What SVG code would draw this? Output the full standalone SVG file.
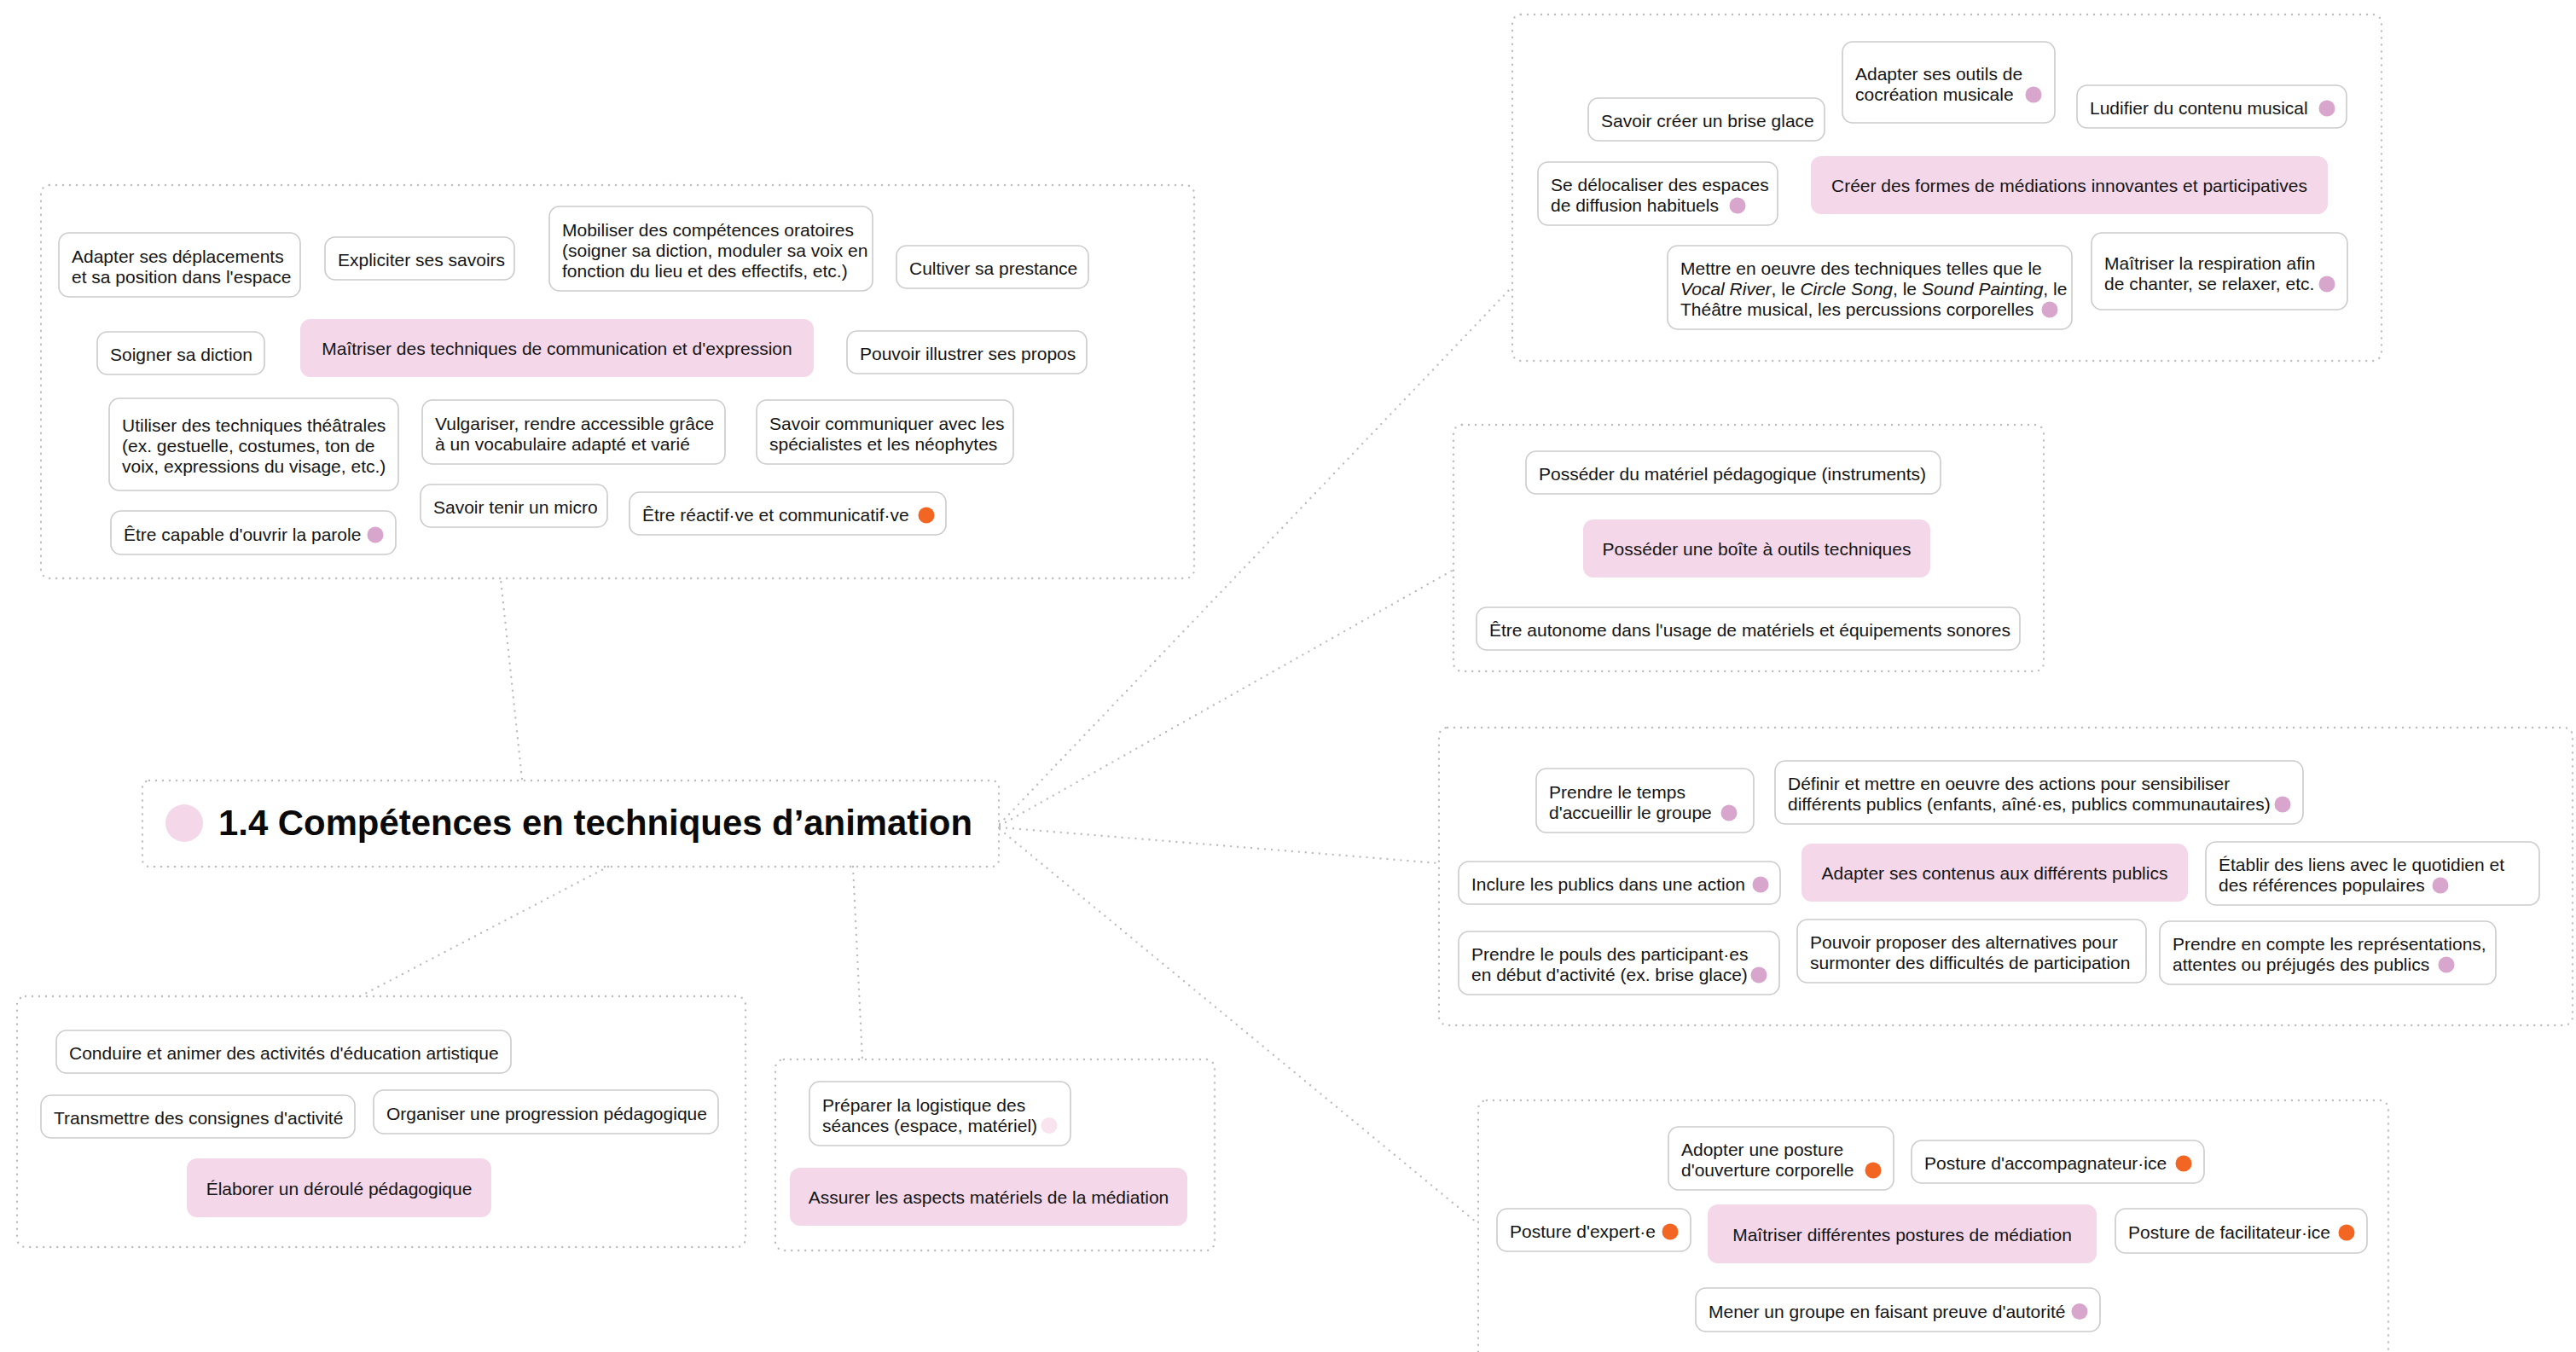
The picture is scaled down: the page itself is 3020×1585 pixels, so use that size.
<svg xmlns="http://www.w3.org/2000/svg" width="3020" height="1585" viewBox="0 0 3020 1585">
<style>
.frame{fill:none;stroke:#BBBBBB;stroke-width:2.4;stroke-dasharray:0 8;stroke-linecap:round}
.edge{fill:none;stroke:#BBBBBB;stroke-width:2.4;stroke-dasharray:0 8;stroke-linecap:round}
.box{fill:#FFFFFF;stroke:#CBCBCB;stroke-width:1.6}
.hub{fill:#F4D7E9;stroke:none}
.t{font-family:"Liberation Sans",Arial,sans-serif;font-size:21px;fill:#151515}
.tc{font-family:"Liberation Sans",Arial,sans-serif;font-size:21px;fill:#151515;text-anchor:middle}
.title{font-family:"Liberation Sans",Arial,sans-serif;font-size:43px;font-weight:bold;fill:#0A0A0A}
.dp{fill:#D8A5CC}
.do{fill:#F26522}
.dl{fill:#F8E3EE}
</style>
<rect width="3020" height="1585" fill="#FFFFFF"/>

<g id="connectors">
<line class="edge" x1="612" y1="913" x2="587" y2="679"/>
<line class="edge" x1="713" y1="1016" x2="422" y2="1168"/>
<line class="edge" x1="1000" y1="1016" x2="1011" y2="1242"/>
<line class="edge" x1="1172" y1="966" x2="1772" y2="337"/>
<line class="edge" x1="1172" y1="968" x2="1704" y2="668"/>
<line class="edge" x1="1172" y1="970" x2="1687" y2="1012"/>
<line class="edge" x1="1172" y1="972" x2="1731" y2="1433"/>
</g>

<g id="frames">
<rect class="frame" x="48" y="217" width="1352" height="461" rx="10"/>
<rect class="frame" x="1773" y="17" width="1019" height="406" rx="10"/>
<rect class="frame" x="1704" y="498" width="692" height="289" rx="10"/>
<rect class="frame" x="1687" y="853" width="1329" height="349" rx="10"/>
<rect class="frame" x="1733" y="1290" width="1067" height="320" rx="10"/>
<rect class="frame" x="20" y="1168" width="854" height="294" rx="10"/>
<rect class="frame" x="909" y="1242" width="515" height="224" rx="10"/>
</g>

<g id="central">
<rect class="frame" x="167" y="915" width="1004" height="101" rx="8"/>
<circle cx="216" cy="965" r="22" fill="#F4D7E9"/>
<text class="title" x="256" y="979" textLength="884" lengthAdjust="spacingAndGlyphs">1.4 Compétences en techniques d’animation</text>
</g>

<!-- Group 1 -->
<g id="n1"><rect class="box" x="69" y="273" width="283" height="75" rx="12"/><text class="t" x="84" y="307.5">Adapter ses déplacements</text><text class="t" x="84" y="331.5">et sa position dans l'espace</text></g>
<g id="n2"><rect class="box" x="381" y="278" width="222" height="50" rx="12"/><text class="t" x="396" y="312">Expliciter ses savoirs</text></g>
<g id="n3"><rect class="box" x="644" y="242" width="379" height="99" rx="12"/><text class="t" x="659" y="276.5">Mobiliser des compétences oratoires</text><text class="t" x="659" y="300.5">(soigner sa diction, moduler sa voix en</text><text class="t" x="659" y="324.5">fonction du lieu et des effectifs, etc.)</text></g>
<g id="n4"><rect class="box" x="1051" y="288" width="225" height="50" rx="12"/><text class="t" x="1066" y="322">Cultiver sa prestance</text></g>
<g id="n5"><rect class="box" x="114" y="389" width="196" height="50" rx="12"/><text class="t" x="129" y="423">Soigner sa diction</text></g>
<g id="p1"><rect class="hub" x="352" y="374" width="602" height="68" rx="12"/><text class="tc" x="653" y="416">Maîtriser des techniques de communication et d'expression</text></g>
<g id="n6"><rect class="box" x="993" y="388" width="281" height="50" rx="12"/><text class="t" x="1008" y="422">Pouvoir illustrer ses propos</text></g>
<g id="n7"><rect class="box" x="128" y="467" width="339" height="108" rx="12"/><text class="t" x="143" y="506">Utiliser des techniques théâtrales</text><text class="t" x="143" y="530">(ex. gestuelle, costumes, ton de</text><text class="t" x="143" y="554">voix, expressions du visage, etc.)</text></g>
<g id="n8"><rect class="box" x="495" y="469" width="355" height="75" rx="12"/><text class="t" x="510" y="503.5">Vulgariser, rendre accessible grâce</text><text class="t" x="510" y="527.5">à un vocabulaire adapté et varié</text></g>
<g id="n9"><rect class="box" x="887" y="469" width="301" height="75" rx="12"/><text class="t" x="902" y="503.5">Savoir communiquer avec les</text><text class="t" x="902" y="527.5">spécialistes et les néophytes</text></g>
<g id="n10"><rect class="box" x="493" y="568" width="219" height="50" rx="12"/><text class="t" x="508" y="602">Savoir tenir un micro</text></g>
<g id="n11"><rect class="box" x="738" y="577" width="371" height="50" rx="12"/><text class="t" x="753" y="611">Être réactif·ve et communicatif·ve</text><circle class="do" cx="1086" cy="604" r="9.5"/></g>
<g id="n12"><rect class="box" x="130" y="599" width="334" height="51" rx="12"/><text class="t" x="145" y="633.5">Être capable d'ouvrir la parole</text><circle class="dp" cx="440" cy="627" r="9.5"/></g>

<!-- Group top right -->
<g id="a1"><rect class="box" x="1862" y="115" width="277" height="50" rx="12"/><text class="t" x="1877" y="149">Savoir créer un brise glace</text></g>
<g id="a2"><rect class="box" x="2160" y="49" width="249" height="95" rx="12"/><text class="t" x="2175" y="93.5">Adapter ses outils de</text><text class="t" x="2175" y="117.5">cocréation musicale</text><circle class="dp" cx="2384" cy="111" r="9.5"/></g>
<g id="a3"><rect class="box" x="2435" y="100" width="316" height="50" rx="12"/><text class="t" x="2450" y="134">Ludifier du contenu musical</text><circle class="dp" cx="2728" cy="127" r="9.5"/></g>
<g id="a4"><rect class="box" x="1803" y="190" width="281" height="74" rx="12"/><text class="t" x="1818" y="224">Se délocaliser des espaces</text><text class="t" x="1818" y="248">de diffusion habituels</text><circle class="dp" cx="2037" cy="241" r="9.5"/></g>
<g id="pa"><rect class="hub" x="2123" y="183" width="606" height="68" rx="12"/><text class="tc" x="2426" y="225">Créer des formes de médiations innovantes et participatives</text></g>
<g id="a5"><rect class="box" x="1955" y="288" width="474" height="98" rx="12"/><text class="t" x="1970" y="322">Mettre en oeuvre des techniques telles que le</text><text class="t" x="1970" y="346"><tspan font-style="italic">Vocal River</tspan>, le <tspan font-style="italic">Circle Song</tspan>, le <tspan font-style="italic">Sound Painting</tspan>, le</text><text class="t" x="1970" y="370">Théâtre musical, les percussions corporelles</text><circle class="dp" cx="2403" cy="363" r="9.5"/></g>
<g id="a6"><rect class="box" x="2452" y="273" width="300" height="90" rx="12"/><text class="t" x="2467" y="316">Maîtriser la respiration afin</text><text class="t" x="2467" y="340">de chanter, se relaxer, etc.</text><circle class="dp" cx="2728" cy="333" r="9.5"/></g>

<!-- Group 2 -->
<g id="b1"><rect class="box" x="1789" y="529" width="486" height="50" rx="12"/><text class="t" x="1804" y="563">Posséder du matériel pédagogique (instruments)</text></g>
<g id="pb"><rect class="hub" x="1856" y="609" width="407" height="68" rx="12"/><text class="tc" x="2059.5" y="651">Posséder une boîte à outils techniques</text></g>
<g id="b2"><rect class="box" x="1731" y="712" width="637" height="50" rx="12"/><text class="t" x="1746" y="746">Être autonome dans l'usage de matériels et équipements sonores</text></g>

<!-- Group 3 -->
<g id="c1"><rect class="box" x="1801" y="901" width="255" height="75" rx="12"/><text class="t" x="1816" y="935.5">Prendre le temps</text><text class="t" x="1816" y="959.5">d'accueillir le groupe</text><circle class="dp" cx="2027" cy="953" r="9.5"/></g>
<g id="c2"><rect class="box" x="2081" y="892" width="619" height="74" rx="12"/><text class="t" x="2096" y="926">Définir et mettre en oeuvre des actions pour sensibiliser</text><text class="t" x="2096" y="950">différents publics (enfants, aîné·es, publics communautaires)</text><circle class="dp" cx="2676" cy="943" r="9.5"/></g>
<g id="c3"><rect class="box" x="1710" y="1010" width="377" height="50" rx="12"/><text class="t" x="1725" y="1044">Inclure les publics dans une action</text><circle class="dp" cx="2064" cy="1037" r="9.5"/></g>
<g id="pc"><rect class="hub" x="2112" y="989" width="453" height="68" rx="12"/><text class="tc" x="2338.5" y="1031">Adapter ses contenus aux différents publics</text></g>
<g id="c4"><rect class="box" x="2586" y="987" width="391" height="74" rx="12"/><text class="t" x="2601" y="1021">Établir des liens avec le quotidien et</text><text class="t" x="2601" y="1045">des références populaires</text><circle class="dp" cx="2861" cy="1038" r="9.5"/></g>
<g id="c5"><rect class="box" x="1710" y="1092" width="376" height="74" rx="12"/><text class="t" x="1725" y="1126">Prendre le pouls des participant·es</text><text class="t" x="1725" y="1150">en début d'activité (ex. brise glace)</text><circle class="dp" cx="2062" cy="1143" r="9.5"/></g>
<g id="c6"><rect class="box" x="2107" y="1078" width="409" height="74" rx="12"/><text class="t" x="2122" y="1112">Pouvoir proposer des alternatives pour</text><text class="t" x="2122" y="1136">surmonter des difficultés de participation</text></g>
<g id="c7"><rect class="box" x="2532" y="1080" width="394" height="74" rx="12"/><text class="t" x="2547" y="1114">Prendre en compte les représentations,</text><text class="t" x="2547" y="1138">attentes ou préjugés des publics</text><circle class="dp" cx="2868" cy="1131" r="9.5"/></g>

<!-- Group 4 -->
<g id="d1"><rect class="box" x="1956" y="1321" width="264" height="74" rx="12"/><text class="t" x="1971" y="1355">Adopter une posture</text><text class="t" x="1971" y="1379">d'ouverture corporelle</text><circle class="do" cx="2196" cy="1372" r="9.5"/></g>
<g id="d2"><rect class="box" x="2241" y="1337" width="343" height="50" rx="12"/><text class="t" x="2256" y="1371">Posture d'accompagnateur·ice</text><circle class="do" cx="2560" cy="1364" r="9.5"/></g>
<g id="d3"><rect class="box" x="1755" y="1417" width="227" height="50" rx="12"/><text class="t" x="1770" y="1451">Posture d'expert·e</text><circle class="do" cx="1958" cy="1444" r="9.5"/></g>
<g id="pd"><rect class="hub" x="2002" y="1412" width="456" height="69" rx="12"/><text class="tc" x="2230" y="1454.5">Maîtriser différentes postures de médiation</text></g>
<g id="d4"><rect class="box" x="2480" y="1417" width="295" height="52" rx="12"/><text class="t" x="2495" y="1452">Posture de facilitateur·ice</text><circle class="do" cx="2751" cy="1445" r="9.5"/></g>
<g id="d5"><rect class="box" x="1988" y="1510" width="474" height="51" rx="12"/><text class="t" x="2003" y="1544.5">Mener un groupe en faisant preuve d'autorité</text><circle class="dp" cx="2438" cy="1537.5" r="9.5"/></g>

<!-- Group A -->
<g id="e1"><rect class="box" x="66" y="1208" width="533" height="50" rx="12"/><text class="t" x="81" y="1242">Conduire et animer des activités d'éducation artistique</text></g>
<g id="e2"><rect class="box" x="48" y="1284" width="368" height="50" rx="12"/><text class="t" x="63" y="1318">Transmettre des consignes d'activité</text></g>
<g id="e3"><rect class="box" x="438" y="1278" width="404" height="51" rx="12"/><text class="t" x="453" y="1312.5">Organiser une progression pédagogique</text></g>
<g id="pe"><rect class="hub" x="219" y="1358" width="357" height="69" rx="12"/><text class="tc" x="397.5" y="1400.5">Élaborer un déroulé pédagogique</text></g>

<!-- Group B -->
<g id="f1"><rect class="box" x="949" y="1268" width="306" height="75" rx="12"/><text class="t" x="964" y="1302.5">Préparer la logistique des</text><text class="t" x="964" y="1326.5">séances (espace, matériel)</text><circle class="dl" cx="1230" cy="1319.5" r="9.5"/></g>
<g id="pf"><rect class="hub" x="926" y="1369" width="466" height="68" rx="12"/><text class="tc" x="1159" y="1411">Assurer les aspects matériels de la médiation</text></g>
</svg>
